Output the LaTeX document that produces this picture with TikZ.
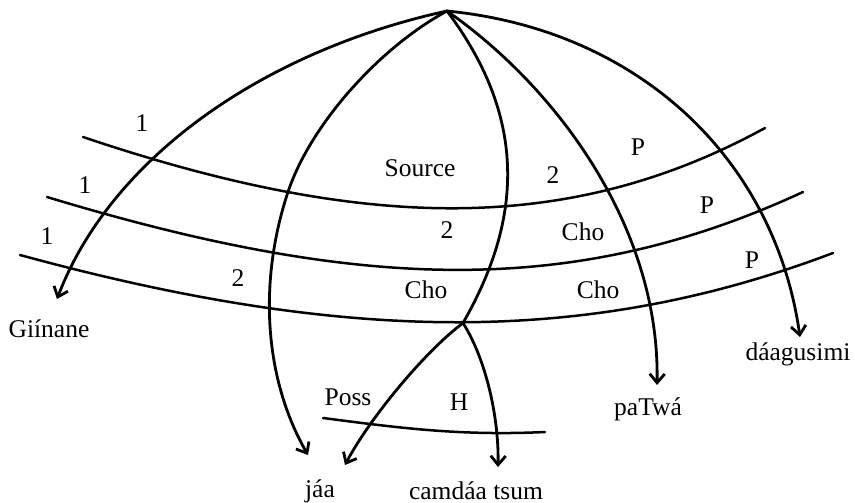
\documentclass[tikz,border=0pt]{standalone}
\usepackage{fontspec}
\setmainfont{Liberation Serif}
\usetikzlibrary{arrows.meta}

\begin{document}
\begin{tikzpicture}[
    x=1pt, y=-1pt,
    gramLbl/.style={font=\fontsize{25.5}{30}\selectfont, inner sep=0pt},
    wordLbl/.style={font=\fontsize{25.5}{30}\selectfont, inner sep=0pt, anchor=base},
    bandLine/.style={line width=2.5pt, line cap=round},
    pathLine/.style={line width=2.8pt, line cap=round},
    pathArrow/.style={pathLine, -{Straight Barb[length=9pt,width=15pt]}},
]
\useasboundingbox (0,0) rectangle (855,503);

% source point, junction and arrow tips
\coordinate (src) at (447,11);
\coordinate (junc) at (463,323);
\coordinate (bendJaa) at (287,195);
\coordinate (tipGin) at (57,299);
\coordinate (tipJaaA) at (308,455);
\coordinate (tipJaaB) at (345,465);
\coordinate (tipCam) at (498,467);
\coordinate (tipPat) at (657,385);
\coordinate (tipDaa) at (800,337);
\coordinate (bandAl) at (83,137);
\coordinate (bandAr) at (765,128);
\coordinate (bandBl) at (47,197);
\coordinate (bandBr) at (803,192);
\coordinate (bandCl) at (20,255);
\coordinate (bandCr) at (833,253);
\coordinate (possL) at (323,418);
\coordinate (possR) at (545,432);

% bands
\draw[bandLine] (bandAl) .. controls (368,233) and (571,234) .. (bandAr);
\draw[bandLine] (bandBl) .. controls (364,293) and (576,297) .. (bandBr);
\draw[bandLine] (bandCl) .. controls (350,345) and (590,345) .. (bandCr);
\draw[bandLine] (possL) .. controls (400,428) and (460,436) .. (possR);

% paths from the source
\draw[pathArrow] (src) .. controls (260,52) and (110,160) .. (tipGin);
\draw[pathArrow] (src) .. controls (377,49) and (308,128) .. (bendJaa)
                       .. controls (258,285) and (265,380) .. (tipJaaA);
\draw[pathLine] (src) .. controls (525,115) and (525,215) .. (junc);
\draw[pathArrow] (junc) .. controls (423,353) and (368,421) .. (tipJaaB);
\draw[pathArrow] (junc) .. controls (487,361) and (499,420) .. (tipCam);
\draw[pathArrow] (src) .. controls (560,90) and (660,230) .. (tipPat);
\draw[pathArrow] (src) .. controls (640,30) and (775,160) .. (tipDaa);

% band labels
\node[gramLbl] (oneA) at (142,123) {1};
\node[gramLbl] (oneB) at (85,185) {1};
\node[gramLbl] (oneC) at (47,236) {1};
\node[gramLbl] (source) at (420,168) {Source};
\node[gramLbl] (twoA) at (553,175) {2};
\node[gramLbl] (pA) at (638,147) {P};
\node[gramLbl] (twoB) at (447,230) {2};
\node[gramLbl] (choA) at (583,232) {Cho};
\node[gramLbl] (pB) at (707,205) {P};
\node[gramLbl] (twoC) at (238,278) {2};
\node[gramLbl] (choB) at (426,290) {Cho};
\node[gramLbl] (choC) at (598,290) {Cho};
\node[gramLbl] (pC) at (752,260) {P};

% words
\node[wordLbl] (poss) at (348,405) {Poss};
\node[wordLbl] (head) at (459,410) {H};
\node[wordLbl] (gin) at (49,337) {Giínane};
\node[wordLbl] (jaa) at (320,497) {jáa};
\node[wordLbl] (cam) at (476,499) {camdáa tsum};
\node[wordLbl] (pat) at (648,415) {paTwá};
\node[wordLbl] (daa) at (798,360) {dáagusimi};
\end{tikzpicture}
\end{document}
